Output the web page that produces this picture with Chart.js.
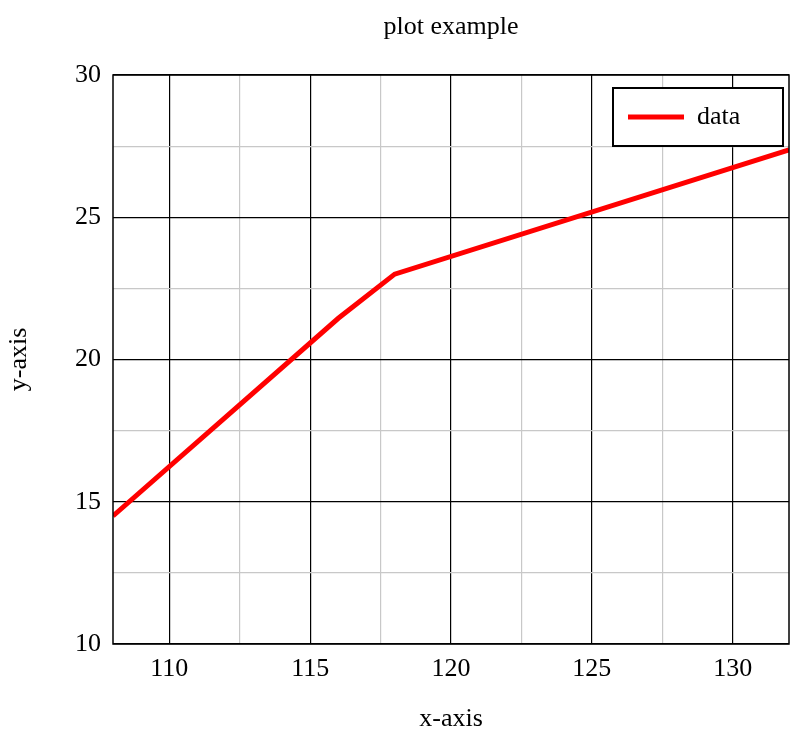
<!DOCTYPE html>
<html><head><meta charset="utf-8">
<script src="https://cdn.jsdelivr.net/npm/chart.js@4"></script>
<style>html,body{margin:0;padding:0;background:#fff}#c{display:block}</style>
</head><body>
<div style="width:799px;height:739px"><canvas id="c"></canvas></div>
<script>
const xValues = [108, 116, 118, 132];
const yValues = [14.5, 21.45, 23.0, 27.37];
const xTicks = [108, 110, 112.5, 115, 117.5, 120, 122.5, 125, 127.5, 130, 132];
const yTicks = [10, 12.5, 15, 17.5, 20, 22.5, 25, 27.5, 30];
const FONT = "'Liberation Serif', 'DejaVu Serif', serif";

const gridCol = ctx => {
  const v = ctx.tick ? ctx.tick.value : null;
  if (v === null) return 'rgba(0,0,0,0)';
  if (v % 5 === 0) return '#000';
  if (v % 2.5 === 0) return '#c8c8c8';
  return 'rgba(0,0,0,0)';
};

const frame = {
  id: 'frame',
  afterDraw(chart) {
    const {ctx, chartArea: a} = chart;
    ctx.save();
    ctx.strokeStyle = '#000'; ctx.lineWidth = 1.5;
    ctx.strokeRect(a.left, a.top, a.right - a.left, a.bottom - a.top);
    // title
    ctx.fillStyle = '#000';
    ctx.font = "26px " + FONT;
    ctx.textAlign = 'center'; ctx.textBaseline = 'middle';
    ctx.fillText('plot example', (a.left + a.right) / 2, 27);
    // legend
    ctx.fillStyle = '#fff';
    ctx.fillRect(613, 88, 170, 58);
    ctx.lineWidth = 2;
    ctx.strokeRect(613, 88, 170, 58);
    ctx.strokeStyle = 'red'; ctx.lineWidth = 5;
    ctx.beginPath(); ctx.moveTo(628, 117); ctx.lineTo(684, 117); ctx.stroke();
    ctx.fillStyle = '#000'; ctx.textAlign = 'left';
    ctx.font = "26px " + FONT;
    ctx.fillText('data', 697, 117);
    ctx.restore();
  }
};

new Chart(document.getElementById('c'), {
  type: 'line',
  data: { datasets: [{
    label: 'data',
    data: xValues.map((x, i) => ({x, y: yValues[i]})),
    borderColor: 'red', borderWidth: 5, pointRadius: 0, tension: 0, fill: false
  }]},
  options: {
    responsive: true, maintainAspectRatio: false, animation: false,
    layout: { padding: { top: 75, right: 2, left: 0, bottom: 0 } },
    plugins: { legend: { display: false }, title: { display: false }, tooltip: { enabled: false } },
    scales: {
      x: {
        type: 'linear', min: 108, max: 132,
        afterBuildTicks: s => { s.ticks = xTicks.map(v => ({value: v})); },
        afterFit: s => { s.height = 95; },
        grid: { color: gridCol, lineWidth: 1.2, drawTicks: false },
        border: { display: false },
        ticks: { color: '#000', font: { family: FONT, size: 26 }, padding: 10,
          autoSkip: false, maxRotation: 0,
          callback: v => (v % 5 === 0 ? String(v) : '') },
        title: { display: true, text: 'x-axis', color: '#000', font: { family: FONT, size: 26 }, padding: { top: 10 } }
      },
      y: {
        type: 'linear', min: 10, max: 30,
        afterBuildTicks: s => { s.ticks = yTicks.map(v => ({value: v})); },
        afterFit: s => { s.width = 113; },
        grid: { color: gridCol, lineWidth: 1.2, drawTicks: false },
        border: { display: false },
        ticks: { color: '#000', font: { family: FONT, size: 26 }, padding: 12,
          autoSkip: false,
          callback: v => (v % 5 === 0 ? String(v) : '') },
        title: { display: true, text: 'y-axis', color: '#000', font: { family: FONT, size: 26 }, padding: { bottom: 4 } }
      }
    }
  },
  plugins: [frame]
});
</script>
</body></html>
